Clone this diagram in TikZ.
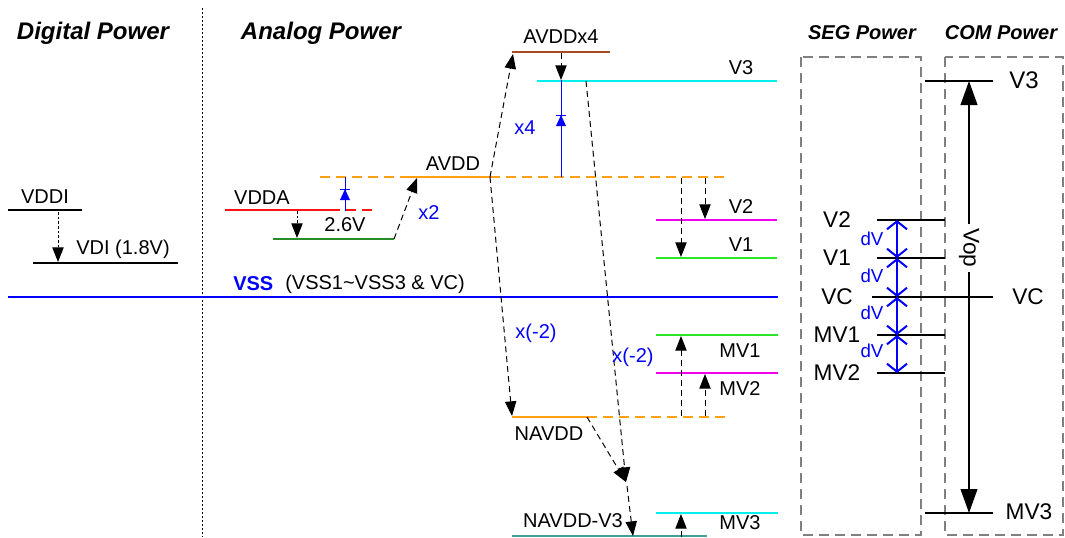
\documentclass[tikz,border=0pt]{standalone}
\usepackage{fontspec}
\setmainfont{Liberation Sans}
\usetikzlibrary{arrows.meta}
\definecolor{myblue}{RGB}{0,0,255}
\definecolor{myorange}{RGB}{255,160,20}
\definecolor{myred}{RGB}{255,20,20}
\definecolor{dgreen}{RGB}{40,140,40}
\definecolor{lgreen}{RGB}{40,230,40}
\definecolor{mycyan}{RGB}{0,240,240}
\definecolor{mymag}{RGB}{240,0,240}
\definecolor{mybrown}{RGB}{165,75,35}
\definecolor{myteal}{RGB}{60,160,160}
\definecolor{mygray}{RGB}{128,128,128}
\begin{document}
\begin{tikzpicture}[x=0.75pt,y=-0.75pt,
  lvl/.style={line width=2pt},
  blvl/.style={line width=1.8pt},
  dlvl/.style={line width=2pt, dash pattern=on 7.5pt off 4.5pt},
  lbl/.style={font=\fontsize{15}{18}\selectfont, inner sep=0pt},
  rlbl/.style={font=\fontsize{17}{20}\selectfont, inner sep=0pt},
  blbl/.style={lbl, text=myblue},
  ttl/.style={font=\fontsize{18}{20}\selectfont\bfseries\itshape, inner sep=0pt},
  sttl/.style={font=\fontsize{15}{18}\selectfont\bfseries\itshape, inner sep=0pt},
  tip/.style={-{Triangle[length=11pt,width=8.5pt]}},
  darr/.style={line width=0.75pt, dash pattern=on 4.5pt off 3pt, tip},
  dline/.style={line width=0.75pt, dash pattern=on 4.5pt off 3pt},
  dotarr/.style={line width=0.75pt, dash pattern=on 2pt off 1.5pt, tip},
  sep/.style={line width=0.75pt, dash pattern=on 1.5pt off 1.5pt},
  gbox/.style={draw=mygray, line width=1.5pt, dash pattern=on 7.5pt off 4.5pt},
  dvarr/.style={myblue, line width=1.5pt, {Straight Barb[length=6pt,width=15pt]}-{Straight Barb[length=6pt,width=15pt]}},
  updiode/.pic={\draw[myblue, line width=0.75pt] (-5,0) -- (5,0);
                \fill[myblue] (0,0) -- (-5,11) -- (5,11) -- cycle;}
]
\useasboundingbox (0,0) rectangle (1065,537);

% separator
\coordinate (sepT) at (202,8); \coordinate (sepB) at (202,537);
\draw[sep] (sepT) -- (sepB);

% titles
\node[ttl] (tDig) at (93,33) {Digital Power};
\node[ttl] (tAna) at (321,33) {Analog Power};
\node[sttl] (tSeg) at (862,33) {SEG Power};
\node[sttl] (tCom) at (1001,33) {COM Power};

% boxes
\coordinate (segA) at (801,57); \coordinate (segB) at (921,535);
\coordinate (comA) at (945,57); \coordinate (comB) at (1063,535);
\draw[gbox] (segA) rectangle (segB);
\draw[gbox] (comA) rectangle (comB);

% ---------- digital ----------
\coordinate (vddiL) at (8,210); \coordinate (vddiR) at (82,210);
\coordinate (vdiL) at (33,263); \coordinate (vdiR) at (178,263);
\draw[blvl] (vddiL) -- (vddiR);
\draw[blvl] (vdiL) -- (vdiR);
\node[lbl] (lVDDI) at (45,197) {VDDI};
\node[lbl] (lVDI) at (123,249) {VDI (1.8V)};
\coordinate (vddiA) at (58,212); \coordinate (vdiA) at (58,262);
\draw[dotarr] (vddiA) -- (vdiA);

% VSS
\coordinate (vssL) at (8,297); \coordinate (vssR) at (778,297);
\draw[myblue, lvl] (vssL) -- (vssR);
\node[lbl, text=myblue, font=\fontsize{15}{18}\selectfont\bfseries, anchor=west] (lVSS) at (233,284) {VSS};
\node[lbl, anchor=west] (lVSSx) at (285,284) {(VSS1\textasciitilde VSS3 \& VC)};

% ---------- analog ----------
% VDDA
\coordinate (vddaL) at (225,210); \coordinate (vddaM) at (330,210); \coordinate (vddaR) at (372,210);
\draw[myred, lvl] (vddaL) -- (vddaM);
\draw[myred, dlvl] (vddaM) -- (vddaR);
\node[lbl] (lVDDA) at (262,198) {VDDA};
% 2.6V
\coordinate (g26L) at (273,239); \coordinate (g26R) at (394,239);
\draw[dgreen, lvl] (g26L) -- (g26R);
\node[lbl] (l26) at (345,225) {2.6V};
\coordinate (vddaA) at (297,211); \coordinate (g26A) at (297,238);
\draw[dotarr] (vddaA) -- (g26A);
% AVDD
\coordinate (avddL) at (320,177); \coordinate (avddS) at (408,177);
\coordinate (avddE) at (490,177); \coordinate (avddR) at (730,177);
\draw[myorange, dlvl] (avddL) -- (avddS);
\draw[myorange, lvl] (avddS) -- (avddE);
\draw[myorange, dlvl] (avddE) -- (avddR);
\node[lbl] (lAVDD) at (453,164) {AVDD};
\coordinate (avddT) at (417,178);
\draw[darr] (g26R) -- (avddT);
\node[blbl] (lx2) at (429,213) {x2};
% diode 1
\coordinate (d1T) at (345,177); \coordinate (d1B) at (345,211);
\draw[myblue, line width=0.75pt] (d1T) -- (d1B);
\pic at (345,189) {updiode};

% AVDDx4
\coordinate (ax4L) at (512,52); \coordinate (ax4R) at (610,52);
\draw[mybrown, lvl] (ax4L) -- (ax4R);
\node[lbl] (lAx4) at (561,37) {AVDDx4};
\coordinate (ax4T) at (513,54);
\draw[darr] (avddE) -- (ax4T);
% V3
\coordinate (v3L) at (537,81); \coordinate (v3R) at (777,81);
\draw[mycyan, lvl] (v3L) -- (v3R);
\node[lbl] (lV3) at (741,68) {V3};
\coordinate (ax4A) at (561,53); \coordinate (v3A) at (561,80);
\draw[darr] (ax4A) -- (v3A);
% diode 2
\coordinate (d2B) at (561,177);
\draw[myblue, line width=0.75pt] (v3A) -- (d2B);
\pic at (561,115) {updiode};
\node[blbl] (lx4) at (525,128) {x4};

% V2, V1
\coordinate (v2L) at (656,220); \coordinate (v2R) at (777,220);
\coordinate (v1L) at (656,258); \coordinate (v1R) at (777,258);
\draw[mymag, lvl] (v2L) -- (v2R);
\draw[lgreen, lvl] (v1L) -- (v1R);
\node[lbl] (lV2) at (741,207) {V2};
\node[lbl] (lV1) at (741,245) {V1};
\coordinate (aV2s) at (705,178); \coordinate (aV2e) at (705,219);
\coordinate (aV1s) at (681,178); \coordinate (aV1e) at (681,257);
\draw[darr] (aV2s) -- (aV2e);
\draw[darr] (aV1s) -- (aV1e);

% MV1, MV2
\coordinate (mv1L) at (656,335); \coordinate (mv1R) at (778,335);
\coordinate (mv2L) at (656,373); \coordinate (mv2R) at (778,373);
\draw[lgreen, lvl] (mv1L) -- (mv1R);
\draw[mymag, lvl] (mv2L) -- (mv2R);
\node[lbl] (lMV1) at (740,351) {MV1};
\node[lbl] (lMV2) at (740,389) {MV2};

% NAVDD
\coordinate (navL) at (512,417); \coordinate (navS) at (587,417); \coordinate (navR) at (725,417);
\draw[myorange, lvl] (navL) -- (navS);
\draw[myorange, dlvl] (navS) -- (navR);
\node[lbl] (lNAV) at (549,434) {NAVDD};
\coordinate (navT) at (512,416);
\draw[darr] (avddE) -- (navT);
\node[blbl] (lxm2a) at (536,333) {x(-2)};
\coordinate (aMV1s) at (681,416); \coordinate (aMV1e) at (681,336);
\coordinate (aMV2s) at (705,416); \coordinate (aMV2e) at (705,374);
\draw[darr] (aMV1s) -- (aMV1e);
\draw[darr] (aMV2s) -- (aMV2e);

% NAVDD-V3 and MV3
\coordinate (nv3L) at (512,536); \coordinate (nv3R) at (707,536);
\draw[myteal, lvl] (nv3L) -- (nv3R);
\node[lbl] (lNV3) at (573,521) {NAVDD-V3};
\coordinate (mv3L) at (656,513); \coordinate (mv3R) at (778,513);
\draw[mycyan, lvl] (mv3L) -- (mv3R);
\node[lbl] (lMV3) at (740,523) {MV3};
\coordinate (aMV3s) at (681,537); \coordinate (aMV3e) at (681,514);
\draw[darr] (aMV3s) -- (aMV3e);

% V3 x(-2) + NAVDD -> NAVDD-V3
\coordinate (v3D) at (586,81); \coordinate (sumP) at (626,482); \coordinate (sumQ) at (627,486);
\coordinate (nv3T) at (633,536);
\draw[darr] (v3D) -- (sumP);
\draw[darr] (navS) -- (sumP);
\draw[darr] (sumQ) -- (nv3T);
\node[blbl] (lxm2b) at (633,357) {x(-2)};

% ---------- SEG / COM ----------
\coordinate (sv2L) at (877,220); \coordinate (sv2R) at (945,220);
\coordinate (sv1L) at (877,258); \coordinate (sv1R) at (945,258);
\coordinate (svcL) at (872,297); \coordinate (svcR) at (993,297);
\coordinate (smv1L) at (877,335); \coordinate (smv1R) at (945,335);
\coordinate (smv2L) at (877,373); \coordinate (smv2R) at (945,373);
\coordinate (cv3L) at (925,81); \coordinate (cv3R) at (993,81);
\coordinate (cmv3L) at (925,513); \coordinate (cmv3R) at (993,513);
\foreach \a/\b in {sv2L/sv2R, sv1L/sv1R, svcL/svcR, smv1L/smv1R, smv2L/smv2R, cv3L/cv3R, cmv3L/cmv3R}
  \draw[blvl] (\a) -- (\b);
\node[rlbl] (rV2) at (837,220) {V2};
\node[rlbl] (rV1) at (837,258) {V1};
\node[rlbl] (rVC) at (837,297) {VC};
\node[rlbl] (rMV1) at (837,335) {MV1};
\node[rlbl] (rMV2) at (837,373) {MV2};
\node[rlbl] (rVCr) at (1028,297) {VC};
\node[rlbl, font=\fontsize{18}{20}\selectfont] (rV3) at (1024,80) {V3};
\node[rlbl] (rMV3) at (1029,512) {MV3};

% Vop
\coordinate (vopT) at (969,81); \coordinate (vopB) at (969,513);
\draw[line width=1.5pt, {Triangle[length=18pt,width=12.5pt]}-{Triangle[length=18pt,width=12.5pt]}] (vopT) -- (vopB);
\node[rlbl, fill=white, rotate=-90, inner xsep=3pt, inner ysep=2pt] (vop) at (969,248) {Vop};

% dV arrows
\coordinate (dv0) at (897,220); \coordinate (dv1) at (897,258);
\coordinate (dv2) at (897,297); \coordinate (dv3) at (897,335);
\coordinate (dv4) at (897,373);
\draw[dvarr] (dv0) -- (dv1);
\draw[dvarr] (dv1) -- (dv2);
\draw[dvarr] (dv2) -- (dv3);
\draw[dvarr] (dv3) -- (dv4);
\node[blbl, font=\fontsize{14}{16}\selectfont] (dvA) at (872,239) {dV};
\node[blbl, font=\fontsize{14}{16}\selectfont] (dvB) at (872,276) {dV};
\node[blbl, font=\fontsize{14}{16}\selectfont] (dvC) at (872,313) {dV};
\node[blbl, font=\fontsize{14}{16}\selectfont] (dvD) at (872,351) {dV};
\end{tikzpicture}
\end{document}
